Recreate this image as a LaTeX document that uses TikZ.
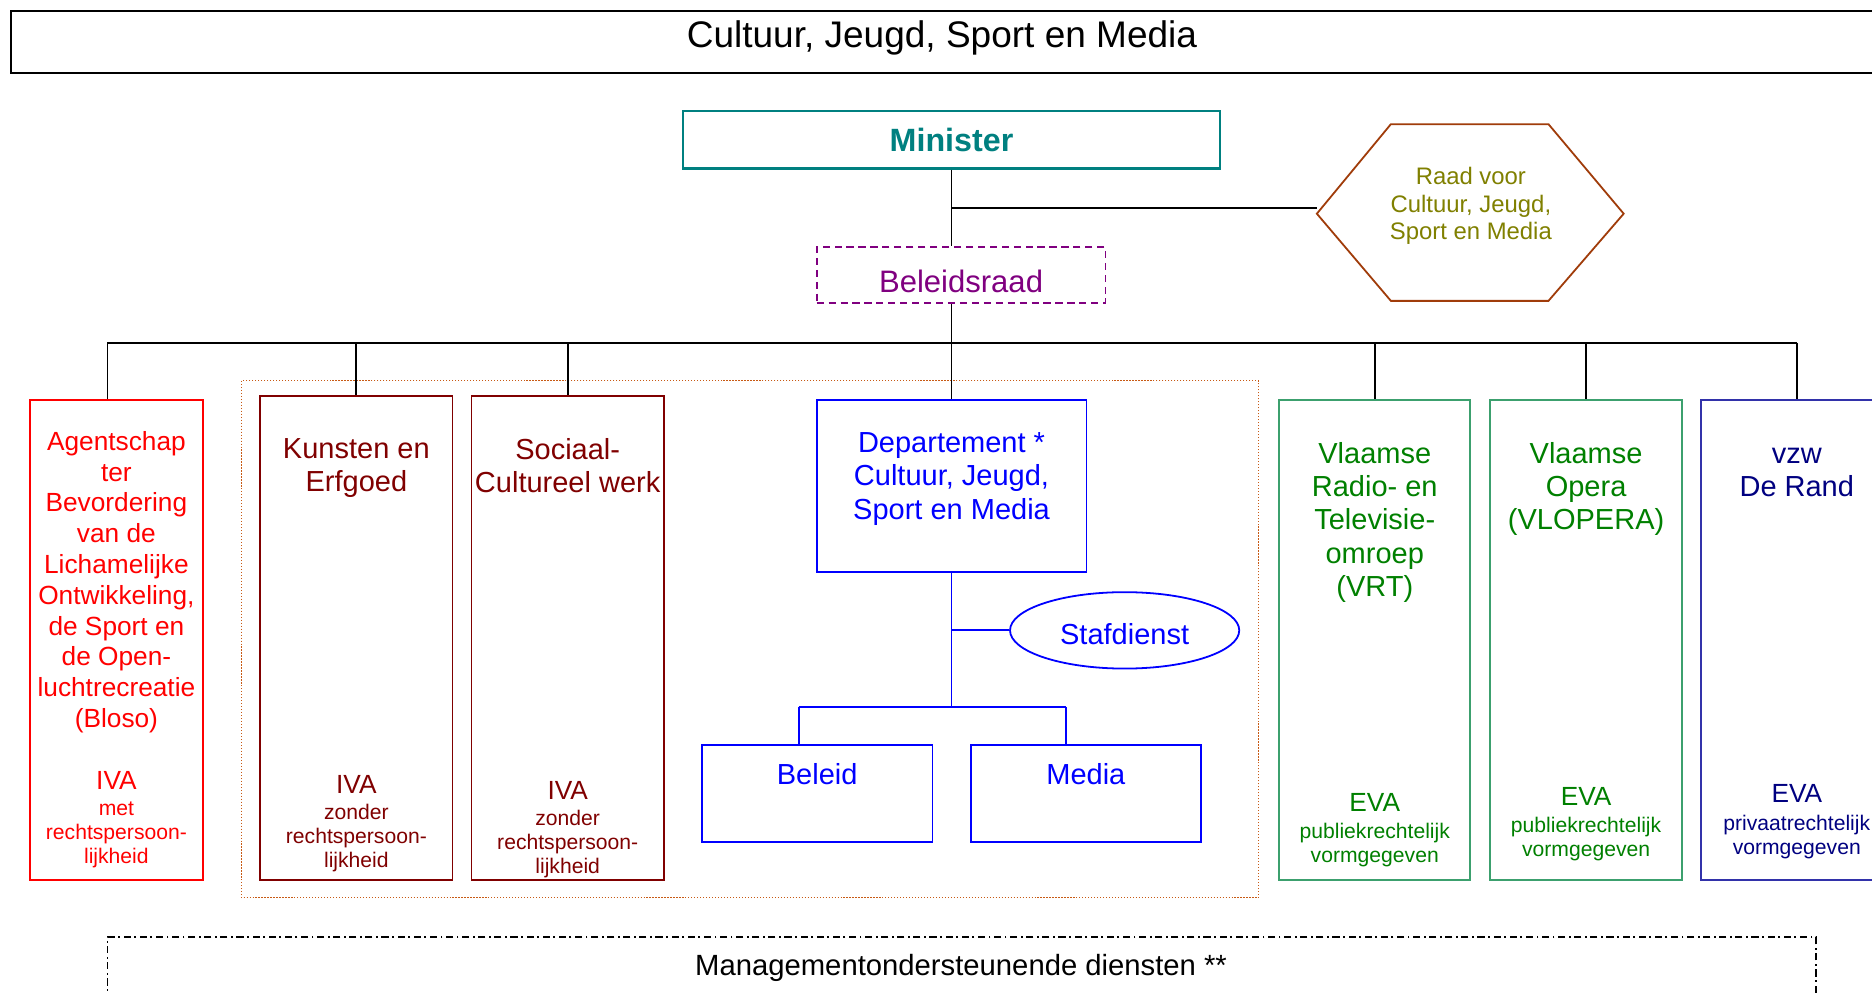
\documentclass[tikz,border=0pt]{standalone}
\usepackage{fontspec}
\setmainfont{Liberation Sans}
\usetikzlibrary{shapes.geometric}
\definecolor{cteal}{RGB}{0,128,128}
\definecolor{colive}{RGB}{128,128,0}
\definecolor{chex}{RGB}{160,60,10}
\definecolor{cpurple}{RGB}{128,0,128}
\definecolor{cred}{RGB}{255,0,0}
\definecolor{cdred}{RGB}{128,0,0}
\definecolor{cdot}{RGB}{200,90,20}
\definecolor{cblue}{RGB}{0,0,255}
\definecolor{cgreen}{RGB}{0,128,0}
\definecolor{cgreenb}{RGB}{60,160,110}
\definecolor{cnavy}{RGB}{0,0,128}
\definecolor{cnavyb}{RGB}{50,50,170}
\newcommand{\myfs}[2]{\fontsize{#1}{#2}\selectfont}
\begin{document}
\begin{tikzpicture}[x=1pt,y=-1pt,
  box/.style={draw, rectangle, inner sep=0, line width=1.5pt},
  txt/.style={inner sep=0, align=center, anchor=north},
  conn/.style={line width=1.5pt, black},
  big/.style={font=\myfs{24.3}{28}},
  mid/.style={font=\myfs{22}{25.8}},
  small/.style={font=\myfs{17.7}{20}},
]
\clip (0,0) rectangle (1568,832);
\fill[white] (0,0) rectangle (1568,832);

% title
\node[box, line width=2pt, minimum width=1571, minimum height=52] (title) at (794.5,35) {};
\node[inner sep=0, anchor=base, font=\myfs{31}{36}] (titletxt) at (789,40) {Cultuur, Jeugd, Sport en Media};

% minister
\node[box, draw=cteal, line width=2pt, minimum width=450, minimum height=48] (min) at (797,117) {};
\node[inner sep=0, anchor=base, text=cteal, font=\myfs{27}{30}\bfseries] (mintxt) at (797,127) {Minister};

% raad (hexagon)
\draw[chex, line width=1.5pt] (1103,179) -- (1165,104) -- (1297,104) -- (1360,179) -- (1297,252) -- (1165,252) -- cycle;
\node[txt, text=colive, font=\myfs{20}{23}] (raad) at (1232,140) {Raad voor\\Cultuur, Jeugd,\\Sport en Media};
\coordinate (hexW) at (1103,174);

% beleidsraad
\node[box, draw=cpurple, dash pattern=on 6pt off 4pt, minimum width=242, minimum height=47] (blr) at (805,230.5) {};
\node[inner sep=0, anchor=base, text=cpurple, font=\myfs{26}{30}] (blrtxt) at (805,245) {Beleidsraad};

% dotted group
\draw[cdot, line width=1pt, dash pattern=on 1pt off 1.5pt] (202,319) rectangle (1054,752);

% agentschap
\node[box, draw=cred, minimum width=145, minimum height=402] (ag) at (97.5,536) {};
\node[txt, mid, text=cred] (agtxt) at (97.5,361) {Agentschap\\ter\\Bevordering\\van de\\Lichamelijke\\Ontwikkeling,\\de Sport en\\de Open-\\luchtrecreatie\\(Bloso)};
\node[txt, mid, text=cred] (agiva) at (97.5,646) {IVA};
\node[txt, small, text=cred] (agsub) at (97.5,671.5) {met\\rechtspersoon-\\lijkheid};

% kunsten
\node[box, draw=cdred, minimum width=161, minimum height=405] (kun) at (298.5,534.5) {};
\node[txt, big, text=cdred] (kuntxt) at (298.5,367) {Kunsten en\\Erfgoed};
\node[txt, mid, text=cdred] (kuniva) at (298.5,649) {IVA};
\node[txt, small, text=cdred] (kunsub) at (298.5,673.5) {zonder\\rechtspersoon-\\lijkheid};

% sociaal
\node[box, draw=cdred, minimum width=161, minimum height=405] (soc) at (475.5,534.5) {};
\node[txt, big, text=cdred] (soctxt) at (475.5,367) {Sociaal-\\Cultureel werk};
\node[txt, mid, text=cdred] (sociva) at (475.5,654) {IVA};
\node[txt, small, text=cdred] (socsub) at (475.5,678.5) {zonder\\rechtspersoon-\\lijkheid};

% departement
\node[box, draw=cblue, minimum width=226, minimum height=144] (dep) at (797,407) {};
\node[txt, big, text=cblue] (deptxt) at (797,362) {Departement *\\Cultuur, Jeugd,\\Sport en Media};
\node[draw=cblue, ellipse, line width=1.5pt, inner sep=0, minimum width=192, minimum height=64] (staf) at (942,528) {};
\node[inner sep=0, anchor=base, text=cblue, font=\myfs{24.3}{28}] (staftxt) at (942,540) {Stafdienst};
\node[box, draw=cblue, minimum width=193, minimum height=81] (bel) at (684.5,664.5) {};
\node[txt, big, text=cblue] (beltxt) at (684.5,639) {Beleid};
\node[box, draw=cblue, minimum width=193, minimum height=81] (med) at (909.5,664.5) {};
\node[txt, big, text=cblue] (medtxt) at (909.5,639) {Media};

% VRT
\node[box, draw=cgreenb, minimum width=160, minimum height=402] (vrt) at (1151.5,536) {};
\node[txt, big, text=cgreen] (vrttxt) at (1151.5,370) {Vlaamse\\Radio- en\\Televisie-\\omroep\\(VRT)};
\node[txt, mid, text=cgreen] (vrteva) at (1151.5,664) {EVA};
\node[txt, small, text=cgreen] (vrtsub) at (1151.5,689.5) {publiekrechtelijk\\vormgegeven};

% Opera
\node[box, draw=cgreenb, minimum width=161, minimum height=402] (ope) at (1328.5,536) {};
\node[txt, big, text=cgreen] (opetxt) at (1328.5,370) {Vlaamse\\Opera\\(VLOPERA)};
\node[txt, mid, text=cgreen] (opeeva) at (1328.5,659) {EVA};
\node[txt, small, text=cgreen] (opesub) at (1328.5,684.5) {publiekrechtelijk\\vormgegeven};

% De Rand
\node[box, draw=cnavyb, minimum width=160, minimum height=402] (ran) at (1505,536) {};
\node[txt, big, text=cnavy] (rantxt) at (1505,375) {vzw\\De Rand};
\node[txt, mid, text=cnavy] (raneva) at (1505,657) {EVA};
\node[txt, small, text=cnavy] (ransub) at (1505,682.5) {privaatrechtelijk\\vormgegeven};

% management
\node[box, line width=1.3pt, dash pattern=on 6pt off 3pt on 1.5pt off 3pt, minimum width=1431, minimum height=60] (mgmt) at (805.5,815) {};
\node[inner sep=0, anchor=base, font=\myfs{24.5}{28}] (mgmttxt) at (805,817) {Managementondersteunende diensten **};

% connectors
\coordinate (j1) at (797,174);
\draw[conn] (min.south) -- (min.south |- blr.north);
\draw[conn] (j1) -- (hexW);
\draw[conn] (min.south |- blr.south) -- (dep.north);
\coordinate (busL) at (90,287);
\coordinate (busR) at (1505,287);
\draw[conn] (busL) -- (busR);
\draw[conn] (busL) -- (busL |- ag.north);
\draw[conn] (kun.north |- busL) -- (kun.north);
\draw[conn] (soc.north |- busL) -- (soc.north);
\draw[conn] (vrt.north |- busL) -- (vrt.north);
\draw[conn] (ope.north |- busL) -- (ope.north);
\draw[conn] (ran.north |- busL) -- (ran.north);

\coordinate (bj) at (797,592);
\coordinate (sj) at (dep.south |- staf.west);
\coordinate (bl) at (669,592);
\coordinate (br) at (893,592);
\draw[cblue, line width=1.5pt] (dep.south) -- (bj);
\draw[cblue, line width=1.5pt] (sj) -- (staf.west);
\draw[cblue, line width=1.5pt] (bl) -- (br);
\draw[cblue, line width=1.5pt] (bl) -- (bl |- bel.north);
\draw[cblue, line width=1.5pt] (br) -- (br |- med.north);
\end{tikzpicture}
\end{document}
